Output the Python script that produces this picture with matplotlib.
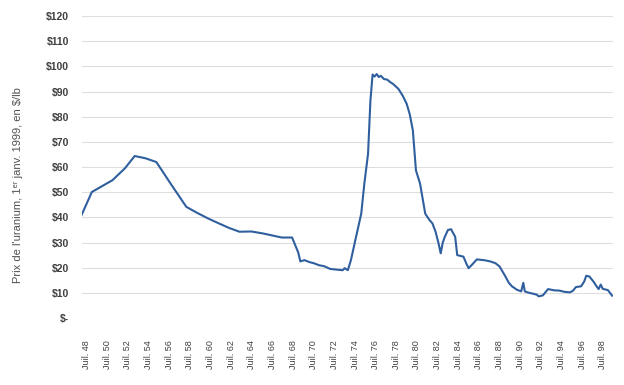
import matplotlib
matplotlib.use("Agg")
import matplotlib.pyplot as plt

# prix de l'uranium (dollars de 1999 par livre), annee decimale
annees = [1948.0, 1949.0, 1951.0, 1952.2, 1953.15, 1954.2, 1955.25, 1956.7, 1958.15,
          1959.2, 1960.25, 1961.2, 1962.3, 1963.3, 1964.45, 1965.6, 1966.5, 1967.4, 1968.4,
          1969.0, 1969.2, 1969.6, 1970.1, 1970.5, 1971.0, 1971.5, 1972.1, 1972.8, 1973.3,
          1973.5, 1973.8, 1974.1, 1974.6, 1975.1, 1975.4, 1975.76, 1975.99, 1976.2, 1976.4,
          1976.6, 1976.8, 1977.0, 1977.3, 1977.6, 1977.9, 1978.2, 1978.7, 1979.1, 1979.5,
          1979.8, 1980.1, 1980.4, 1980.8, 1981.3, 1981.7, 1982.0, 1982.3, 1982.6, 1982.8,
          1983.0, 1983.2, 1983.5, 1983.8, 1984.2, 1984.4, 1985.0, 1985.3, 1985.5, 1985.9,
          1986.3, 1987.0, 1987.6, 1988.1, 1988.5, 1989.0, 1989.4, 1989.7, 1990.2, 1990.6,
          1990.8, 1990.95, 1991.2, 1991.6, 1992.1, 1992.3, 1992.7, 1993.0, 1993.2, 1993.8,
          1994.3, 1994.8, 1995.3, 1995.6, 1995.9, 1996.4, 1996.7, 1996.9, 1997.2, 1997.6,
          1997.9, 1998.1, 1998.3, 1998.5, 1999.0, 1999.4]
prix = [40.9, 50.1, 54.8, 59.5, 64.4, 63.5, 62.0, 53.0, 44.2,
        41.8, 39.6, 37.8, 35.8, 34.3, 34.4, 33.6, 32.8, 32.0, 32.0,
        26.0, 22.5, 23.0, 22.2, 21.8, 21.0, 20.6, 19.5, 19.2, 19.0,
        19.8, 19.0, 23.0, 32.3, 41.5, 53.4, 65.3, 86.5, 96.8, 96.0,
        97.0, 95.8, 96.3, 95.0, 94.8, 93.8, 93.0, 91.1, 88.5, 85.2,
        81.0, 74.6, 58.7, 53.4, 41.5, 39.0, 37.6, 34.3, 29.5, 25.7,
        30.0, 32.3, 35.0, 35.3, 32.3, 25.0, 24.4, 21.5, 19.8, 21.5,
        23.3, 23.0, 22.5, 21.8, 20.5, 17.0, 14.0, 12.6, 11.2, 10.6,
        14.0, 10.6, 10.2, 9.8, 9.3, 8.6, 9.0, 10.5, 11.5, 11.0,
        10.9, 10.4, 10.2, 10.8, 12.3, 12.6, 14.5, 16.8, 16.5, 14.5,
        12.6, 11.5, 13.3, 11.6, 11.1, 8.9]

positions_x = [1948.5 + 2 * k for k in range(26)]
etiquettes_x = ["Juil. %02d" % (48 + 2 * k) for k in range(26)]
positions_y = list(range(0, 130, 10))
etiquettes_y = ["$-"] + ["$%d" % v for v in positions_y[1:]]

plt.rcParams["font.family"] = ["Liberation Sans", "DejaVu Sans"]

fig = plt.figure(figsize=(6.24, 3.85), dpi=100)
ax = fig.add_axes([0.131, 0.174, 0.851, 0.784])

ax.plot(annees, prix, color="#2f5f9e", linewidth=1.5)

ax.set_xlim(1948.02, 1999.47)
ax.set_ylim(0, 120)
ax.set_xticks(positions_x)
ax.set_xticklabels(etiquettes_x, rotation=90, fontsize=6.5, color="#404040")
ax.set_yticks(positions_y)
ax.set_yticklabels(etiquettes_y, fontsize=7.5, fontweight="bold", color="#404040")
ax.tick_params(axis="x", length=0, pad=16)
ax.tick_params(axis="y", length=0, pad=9)

ax.grid(axis="y", color="#dedede", linewidth=0.8)
for s in ax.spines.values():
    s.set_visible(False)

ax.set_ylabel("Prix de l'uranium, 1ᵉʳ janv. 1999, en $/lb", fontsize=8,
              color="#505050")
ax.yaxis.set_label_coords(-0.11, 0.44)

fig.savefig("out.png", dpi=100)
